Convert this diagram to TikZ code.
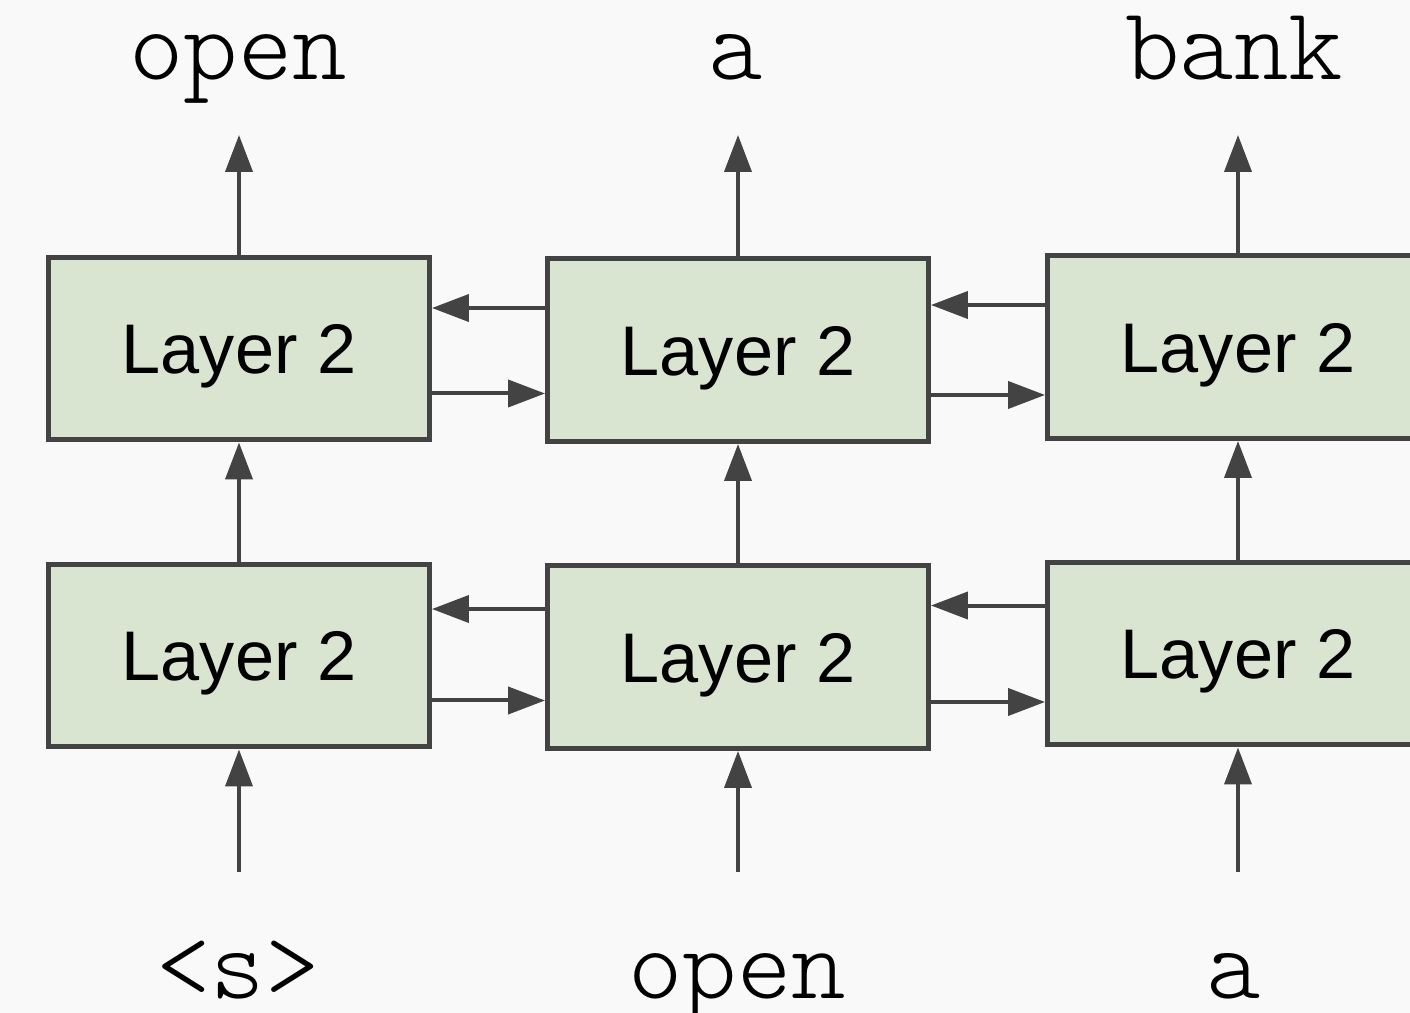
\documentclass[tikz,border=0pt]{standalone}
\usepackage{fontspec}
\newfontfamily\layerfont{Liberation Sans}
\newfontfamily\wordfont{Latin Modern Mono Light}
\usetikzlibrary{arrows.meta}
\definecolor{boxgreen}{HTML}{D9E5D0}
\definecolor{linegray}{HTML}{434343}
\definecolor{bggray}{HTML}{F9F9F9}
\tikzset{
	layer/.style={draw=linegray, fill=boxgreen, line width=0.1cm, minimum width=7.62cm, minimum height=3.66cm, inner sep=0pt, text height=28.6pt, text depth=0pt, font=\layerfont\fontsize{40}{48}\selectfont},
	word/.style={anchor=base, inner sep=0pt, font=\wordfont\fontsize{59}{66}\selectfont},
	arr/.style={draw=linegray, line width=0.08cm, -{Triangle[length=0.74cm,width=0.54cm]}}
}

\begin{document}
\begin{tikzpicture}[x=0.02cm, y=-0.02cm]
		%%%%% START %%%%%
		
		\useasboundingbox[fill=bggray] (0,0) rectangle (1410,1013);
		\clip (0,0) rectangle (1410,1013);
		
		\coordinate (otip) at (0,135);
		\coordinate (ibot) at (0,872);
		
		\node[layer] (b1) at (239,655.5) {Layer 2};
		\node[layer] (b2) at (738,657) {Layer 2};
		\node[layer] (b3) at (1238,653.5) {Layer 2};
		
		\node[layer] (t1) at (239,348.5) {Layer 2};
		\node[layer] (t2) at (738,350) {Layer 2};
		\node[layer] (t3) at (1238,347) {Layer 2};
		
		\node[word] (out1) at (238,80) {open};
		\node[word] (out2) at (736,80) {a};
		\node[word] (out3) at (1234,80) {bank};
		
		\node[word] (in1) at (238,998) {<s>};
		\node[word] (in2) at (737,998) {open};
		\node[word] (in3) at (1234,998) {a};
		
		\draw[arr] (b1.south |- ibot) -- (b1.south);
		\draw[arr] (b2.south |- ibot) -- (b2.south);
		\draw[arr] (b3.south |- ibot) -- (b3.south);
		
		\draw[arr] (b1.north) -- (t1.south);
		\draw[arr] (b2.north) -- (t2.south);
		\draw[arr] (b3.north) -- (t3.south);
		
		\draw[arr] (t1.north) -- (t1.north |- otip);
		\draw[arr] (t2.north) -- (t2.north |- otip);
		\draw[arr] (t3.north) -- (t3.north |- otip);
		
		\draw[arr] ([yshift=0.96cm]b2.west) -- ([yshift=0.96cm]b2.west -| b1.east);
		\draw[arr] ([yshift=-0.9cm]b1.east) -- ([yshift=-0.9cm]b1.east -| b2.west);
		\draw[arr] ([yshift=0.96cm]b3.west) -- ([yshift=0.96cm]b3.west -| b2.east);
		\draw[arr] ([yshift=-0.9cm]b2.east) -- ([yshift=-0.9cm]b2.east -| b3.west);
		
		\draw[arr] ([yshift=0.84cm]t2.west) -- ([yshift=0.84cm]t2.west -| t1.east);
		\draw[arr] ([yshift=-0.9cm]t1.east) -- ([yshift=-0.9cm]t1.east -| t2.west);
		\draw[arr] ([yshift=0.84cm]t3.west) -- ([yshift=0.84cm]t3.west -| t2.east);
		\draw[arr] ([yshift=-0.9cm]t2.east) -- ([yshift=-0.9cm]t2.east -| t3.west);
		
		%%%%% END %%%%%
	\end{tikzpicture}
\end{document}
